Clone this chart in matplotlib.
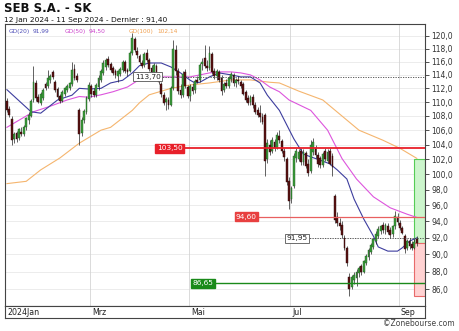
import matplotlib
matplotlib.use("Agg")
import matplotlib.pyplot as plt
import numpy as np
import pandas as pd
from matplotlib.patches import Rectangle
from matplotlib.ticker import FixedLocator, NullLocator, FuncFormatter

# trading days, Euronext Paris, 12 Jan - 11 Sep 2024
days = pd.bdate_range("2024-01-12", "2024-09-11")
days = days[~days.isin(pd.to_datetime(["2024-03-29", "2024-04-01", "2024-05-01"]))]

opens = [
    110.2, 109.0, 107.6, 104.8, 105.6, 104.9, 105.8, 105.5, 106.4, 107.4,
    108.0, 110.3, 112.8, 110.8, 109.9, 110.6, 112.6, 112.3, 113.3, 114.4,
    113.0, 111.9, 110.9, 110.2, 111.2, 111.7, 112.0, 112.6, 114.9, 113.9,
    108.8, 105.6, 107.4, 108.5, 110.5, 112.4, 111.6, 111.0, 112.2, 113.2,
    114.3, 115.2, 116.4, 115.6, 115.0, 114.6, 113.8, 114.1, 114.8, 115.9,
    114.7, 114.6, 117.4, 119.5, 117.6, 116.8, 115.8, 115.5, 117.3, 116.2,
    115.0, 114.5, 115.4, 114.0, 112.6, 111.0, 110.0, 110.3, 109.6, 112.0,
    117.8, 114.6, 111.8, 111.0, 114.4, 112.2, 110.9, 112.2, 111.7, 113.3,
    113.2, 115.6, 116.6, 115.4, 115.0, 117.2, 114.6, 113.8, 114.4, 113.6,
    111.8, 112.8, 112.3, 113.4, 114.0, 112.8, 113.3, 113.0, 112.6, 111.4,
    110.6, 110.0, 110.8, 109.5, 108.8, 108.4, 107.9, 108.2, 102.0, 104.0,
    103.2, 104.4, 103.6, 105.2, 104.5, 103.2, 102.0, 99.2, 96.8, 98.5,
    102.2, 102.0, 103.2, 101.6, 102.8, 101.4, 100.4, 103.0, 103.6, 102.6,
    102.2, 101.3, 103.2, 101.8, 103.2, 102.5, 97.2, 94.6, 93.8, 93.6,
    92.0, 90.8, 87.4, 86.2, 87.0, 87.3, 87.8, 88.6, 88.0, 89.0,
    89.7, 90.3, 90.9, 91.6, 92.2, 92.8, 93.6, 92.9, 93.5, 92.9,
    92.4, 93.4, 94.6, 93.8, 93.2, 92.2, 90.8, 91.6, 91.2, 90.8,
    91.8]
highs = [
    110.6, 109.4, 108.0, 105.8, 105.9, 106.3, 106.4, 106.7, 107.9, 108.5,
    110.5, 115.3, 113.2, 111.2, 111.4, 112.0, 113.0, 114.8, 114.2, 114.8,
    113.3, 112.2, 111.2, 111.7, 112.2, 112.6, 113.0, 116.0, 115.6, 114.3,
    109.2, 107.8, 109.0, 110.9, 113.0, 112.7, 112.0, 112.8, 114.0, 114.9,
    116.2, 116.6, 116.9, 115.9, 115.3, 114.9, 114.8, 115.2, 116.2, 116.2,
    115.0, 117.6, 120.4, 119.9, 118.2, 117.2, 116.3, 117.5, 118.0, 116.5,
    115.5, 115.8, 115.7, 114.3, 112.9, 111.4, 110.8, 110.7, 112.4, 119.4,
    118.5, 115.0, 112.6, 114.6, 114.9, 112.5, 112.6, 112.8, 113.4, 113.8,
    115.8, 116.5, 118.6, 116.2, 118.4, 117.5, 115.0, 114.9, 114.8, 114.0,
    113.0, 113.4, 113.9, 114.5, 114.3, 113.6, 113.9, 113.2, 112.9, 111.8,
    111.0, 111.0, 111.2, 110.0, 109.3, 109.5, 108.4, 108.4, 104.8, 104.6,
    105.0, 104.8, 105.8, 106.0, 104.8, 103.6, 102.3, 99.6, 98.5, 102.8,
    103.6, 103.4, 103.5, 103.4, 103.1, 102.0, 104.6, 104.9, 104.0, 103.0,
    102.5, 103.0, 103.5, 103.4, 103.5, 102.8, 97.5, 95.2, 94.4, 94.0,
    92.3, 91.0, 87.8, 87.6, 87.9, 88.3, 88.6, 88.9, 89.4, 90.0,
    90.8, 91.4, 92.0, 92.8, 93.4, 93.6, 93.9, 93.8, 93.8, 93.3,
    93.6, 95.3, 95.0, 94.2, 93.5, 92.5, 91.8, 92.0, 91.6, 91.9,
    92.2]
lows = [
    108.5, 107.8, 104.0, 104.2, 104.3, 104.6, 105.2, 105.2, 106.0, 106.8,
    107.8, 110.0, 110.2, 109.8, 109.6, 110.3, 111.8, 112.0, 112.8, 113.4,
    111.5, 110.4, 109.8, 110.0, 110.9, 111.4, 111.7, 112.4, 113.2, 113.0,
    104.0, 105.2, 107.0, 108.3, 110.2, 110.8, 110.8, 110.7, 111.8, 112.9,
    114.0, 114.8, 115.2, 114.5, 114.0, 113.6, 113.0, 113.8, 114.5, 114.3,
    113.9, 114.4, 117.0, 117.5, 116.6, 115.6, 115.0, 115.2, 116.0, 114.6,
    114.2, 114.2, 113.8, 112.6, 110.8, 109.6, 108.8, 109.0, 109.4, 111.8,
    114.0, 111.2, 110.6, 110.8, 112.0, 110.6, 110.2, 111.2, 111.3, 112.8,
    113.0, 114.8, 115.0, 114.6, 114.8, 114.2, 113.4, 113.3, 113.0, 111.0,
    111.4, 112.0, 112.0, 113.0, 112.4, 112.2, 112.6, 112.0, 111.0, 110.0,
    109.6, 109.5, 109.2, 108.3, 107.8, 107.1, 106.8, 99.8, 101.5, 102.6,
    102.8, 103.2, 103.4, 104.2, 102.8, 101.8, 98.6, 95.6, 96.3, 98.2,
    101.6, 101.8, 101.3, 101.2, 100.8, 99.8, 100.2, 102.6, 102.2, 101.0,
    100.8, 101.0, 101.8, 101.5, 101.2, 99.8, 93.8, 93.4, 93.0, 92.0,
    90.5, 88.6, 85.2, 86.0, 86.6, 86.4, 87.4, 87.6, 87.8, 88.8,
    89.4, 90.0, 90.6, 91.3, 92.0, 92.4, 92.6, 92.5, 92.4, 92.0,
    92.1, 93.1, 93.6, 93.0, 92.4, 90.2, 90.5, 90.6, 90.5, 90.6,
    91.0]
closes = [
    108.8, 108.1, 104.7, 105.4, 104.8, 106.1, 105.5, 106.5, 107.7, 108.2,
    110.2, 113.0, 110.6, 110.0, 111.1, 111.7, 112.1, 113.6, 113.9, 113.7,
    111.8, 110.7, 110.1, 111.5, 112.0, 112.4, 112.8, 114.8, 113.5, 113.3,
    105.4, 107.5, 108.7, 110.6, 112.5, 111.2, 111.0, 112.5, 113.6, 114.6,
    115.8, 116.3, 115.5, 114.8, 114.3, 114.0, 114.6, 114.9, 115.9, 114.6,
    114.4, 117.3, 119.6, 117.8, 117.0, 115.9, 115.3, 117.2, 116.3, 114.9,
    114.5, 115.5, 114.1, 112.9, 111.2, 109.9, 110.5, 109.5, 112.0, 118.0,
    114.6, 111.6, 111.0, 114.2, 112.4, 110.9, 112.3, 111.6, 113.1, 113.0,
    115.5, 115.9, 115.3, 115.0, 117.4, 114.5, 113.8, 114.6, 113.3, 111.6,
    112.7, 112.3, 113.6, 114.1, 112.8, 113.3, 113.1, 112.3, 111.2, 110.3,
    109.9, 110.7, 109.5, 108.6, 108.2, 107.8, 107.2, 101.8, 104.2, 103.0,
    104.6, 103.6, 105.3, 104.6, 103.2, 102.3, 99.0, 96.6, 98.2, 102.4,
    103.2, 103.0, 101.6, 103.0, 101.1, 100.2, 104.0, 104.3, 102.6, 101.4,
    101.2, 102.7, 102.1, 103.0, 101.4, 101.0, 94.2, 93.8, 93.4, 92.3,
    90.8, 89.0, 86.0, 87.4, 87.6, 88.0, 88.4, 87.9, 89.2, 89.8,
    90.5, 91.1, 91.8, 92.5, 93.1, 93.4, 92.9, 93.6, 92.7, 92.3,
    93.4, 94.7, 93.9, 93.2, 92.6, 90.7, 91.6, 91.0, 90.8, 91.5,
    91.4]

# moving averages (day index, value)
gd20_idx = [0, 10, 14, 21, 27, 30, 34, 39, 43, 48, 52, 55, 59, 64, 68, 72, 76, 78, 80, 84,
            88, 93, 97, 101, 105, 108, 113, 119, 123, 129, 134, 137, 141, 144, 148, 152,
            154, 158, 162, 164, 167, 170]
gd20 = [111.8, 108.6, 108.4, 110.3, 111.0, 112.0, 111.9, 112.0, 112.8, 113.2, 114.3, 115.4,
        115.8, 115.8, 115.2, 114.3, 113.2, 112.8, 112.9, 113.7, 114.3, 114.0, 113.7, 113.7,
        112.8, 111.0, 108.8, 104.8, 102.7, 102.0, 101.4, 100.6, 99.4, 96.8, 94.3, 92.2,
        90.9, 90.4, 90.4, 90.8, 91.6, 91.99]
gd50_idx = [0, 5, 11, 18, 25, 30, 34, 39, 44, 50, 54, 59, 68, 76, 84, 88, 93, 97, 101, 105,
            109, 113, 117, 126, 133, 139, 145, 152, 159, 166, 170]
gd50 = [106.4, 107.4, 108.6, 109.4, 110.3, 110.8, 110.7, 111.05, 111.5, 112.2, 113.1, 113.7,
        113.7, 113.7, 114.3, 114.45, 114.45, 114.3, 114.0, 113.25, 112.2, 111.5, 110.3, 108.8,
        106.0, 102.1, 99.4, 97.1, 95.7, 94.9, 94.50]
gd100_idx = [0, 8, 14, 22, 30, 39, 43, 52, 55, 59, 68, 76, 84, 93, 101, 109, 113, 121, 131,
             146, 156, 163, 170]
gd100 = [98.8, 99.1, 100.6, 102.2, 104.2, 106.0, 106.4, 108.8, 109.9, 111.05, 112.0, 112.5,
         112.8, 113.25, 113.25, 112.9, 112.8, 111.6, 110.3, 106.0, 104.6, 103.5, 102.14]

month_labels = ["2024Jan", "Mrz", "Mai", "Jul", "Sep"]
month_first = ["2024-01-12", "2024-03-01", "2024-05-02", "2024-07-01", "2024-09-02"]

last_price = 91.40
resist_hi = 103.50
resist_lo = 94.60
support = 86.65
mark_hi = 113.70
mark_lo = 91.95
zone_top = 102.0
zone_bottom = 85.2

o = np.array(opens)
h = np.array(highs)
l = np.array(lows)
c = np.array(closes)
assert len(o) == len(h) == len(l) == len(c) == len(days)
x = np.arange(len(days))

W, H = 460, 331


def rect(x0, y0, x1, y1):
    return [x0 / W, 1 - y1 / H, (x1 - x0) / W, (y1 - y0) / H]


def fx(px):
    return px / W


def fy(py):
    return 1 - py / H


def fr(v):
    return f"{v:.2f}".replace(".", ",")


fig = plt.figure(figsize=(4.6, 3.31), dpi=100)
ax = fig.add_axes(rect(5, 24, 425, 306))
axd = fig.add_axes(rect(5, 306, 425, 318), sharex=ax)

XMIN, XMAX = -0.8, 173.4
ax.set_yscale("log")
ax.set_ylim(84.1, 121.9)
ax.set_xlim(XMIN, XMAX)

ticks = np.arange(86, 121, 2)
ax.yaxis.set_major_locator(FixedLocator(ticks))
ax.yaxis.set_minor_locator(NullLocator())
ax.yaxis.set_major_formatter(FuncFormatter(lambda v, p: f"{v:.1f}".replace(".", ",")))
ax.yaxis.tick_right()
ax.tick_params(axis="y", direction="out", length=3, width=0.6, labelsize=5.5, pad=1.5,
               colors="#333333")
ax.tick_params(axis="x", bottom=False, labelbottom=False)
for t in ticks:
    ax.axhline(t, color="#e9e9e9", lw=0.6, zorder=0)

month_pos = [days.get_loc(pd.Timestamp(d)) for d in month_first]
for p in month_pos[1:]:
    ax.axvline(p - 0.5, color="#d4d4d4", lw=0.6, zorder=0)

for s in ax.spines.values():
    s.set_color("#444444")
    s.set_linewidth(0.8)

# zone boxes at the right edge
ax.add_patch(Rectangle((168.9, last_price), XMAX - 168.9, zone_top - last_price,
                       fc="#ccf5cc", ec="#55cc55", lw=0.8, zorder=1))
ax.add_patch(Rectangle((168.9, zone_bottom), XMAX - 168.9, last_price - zone_bottom,
                       fc="#ffd2d2", ec="#e86a6a", lw=0.8, zorder=1))

# moving averages
ax.plot(gd100_idx, gd100, color="#f5b56e", lw=0.8, zorder=2)
ax.plot(gd50_idx, gd50, color="#dd55dd", lw=0.8, zorder=2)
ax.plot(gd20_idx, gd20, color="#3d3d9e", lw=0.8, zorder=2)

# candles
up = c >= o
ax.vlines(x, l, h, color="#222222", lw=0.5, zorder=3)
ax.bar(x[up], (c - o)[up], bottom=o[up], width=0.75, color="#3c9c3c",
       edgecolor="#1e5a1e", lw=0.3, zorder=4)
ax.bar(x[~up], (o - c)[~up], bottom=c[~up], width=0.75, color="#5a1212",
       edgecolor="#2a0808", lw=0.3, zorder=4)

# levels
lab = dict(fontsize=5.3, va="center", ha="left", zorder=7)
ax.hlines(resist_hi, 62.2, XMAX, color="#e8202a", lw=1.3, zorder=5)
ax.text(62.2, resist_hi, fr(resist_hi), color="white",
        bbox=dict(boxstyle="square,pad=0.2", fc="#e8202a", ec="#e8202a"), **lab)
ax.hlines(resist_lo, 95, XMAX, color="#e86060", lw=0.9, zorder=5)
ax.text(95, resist_lo, fr(resist_lo), color="white",
        bbox=dict(boxstyle="square,pad=0.2", fc="#e84040", ec="#e84040"), **lab)
ax.hlines(support, 77, XMAX, color="#1a8a1a", lw=1.0, zorder=5)
ax.text(77, support, fr(support), color="white",
        bbox=dict(boxstyle="square,pad=0.2", fc="#1a8a1a", ec="#1a8a1a"), **lab)
ax.hlines(mark_hi, 53, XMAX, color="#444444", lw=0.6, linestyles=(0, (1.5, 1.5)), zorder=5)
ax.text(53, mark_hi, fr(mark_hi), color="#222222",
        bbox=dict(boxstyle="square,pad=0.2", fc="white", ec="#555555", lw=0.6), **lab)
ax.hlines(mark_lo, 116, XMAX, color="#444444", lw=0.6, linestyles=(0, (1.5, 1.5)), zorder=5)
ax.text(116, mark_lo, fr(mark_lo), color="#222222",
        bbox=dict(boxstyle="square,pad=0.2", fc="white", ec="#555555", lw=0.6), **lab)

# date band
axd.set_ylim(0, 1)
axd.tick_params(left=False, bottom=False, labelleft=False, labelbottom=False)
for s in axd.spines.values():
    s.set_color("#444444")
    s.set_linewidth(0.8)
for p, lbl in zip(month_pos, month_labels):
    axd.text(max(p - 0.5, XMIN) + 0.8, 0.45, lbl, fontsize=5.7, va="center", ha="left",
             color="#222222")

# header
fig.text(fx(4), fy(9), "SEB S.A. - SK", fontsize=8.5, fontweight="bold", va="center",
         color="#111111")
fig.text(fx(4), fy(20), f"12 Jan 2024 - 11 Sep 2024 - Dernier : {fr(last_price)}",
         fontsize=5.4, va="center", color="#111111")
legend = [("GD(20)", "#5050b8", 9), (fr(gd20[-1]), "#5050b8", 33),
          ("GD(50)", "#cc44cc", 65), (fr(gd50[-1]), "#cc44cc", 89),
          ("GD(100)", "#f0a050", 129), (fr(gd100[-1]), "#f0a050", 157)]
for txt, col, px in legend:
    fig.text(fx(px), fy(31), txt, fontsize=4.2, va="center", color=col)

fig.text(fx(455), fy(324), "\u00a9Zonebourse.com", fontsize=5.5, ha="right", va="center",
         color="#444444")

fig.savefig("out.png", dpi=100)
